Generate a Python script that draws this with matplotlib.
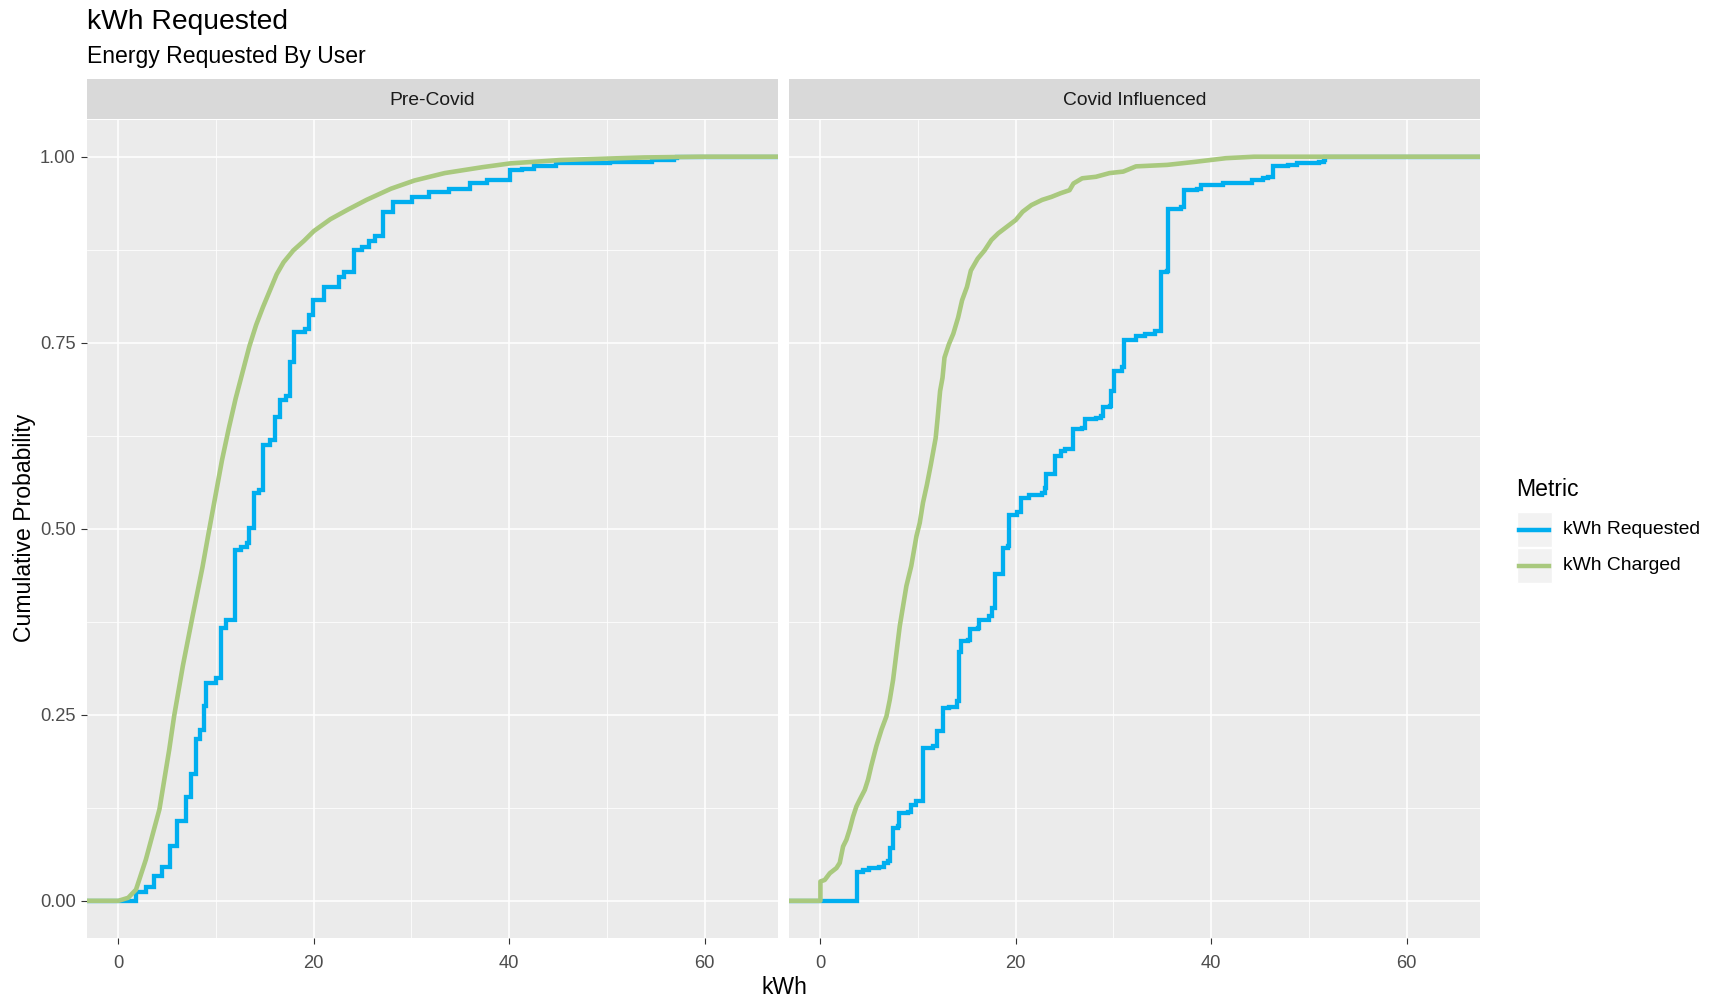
import matplotlib
matplotlib.use('Agg')
import matplotlib.pyplot as plt
from matplotlib.lines import Line2D
from matplotlib.patches import Rectangle

plt.rcParams['font.family'] = ['Liberation Sans', 'DejaVu Sans']

W, H = 1717, 998

panels = ['Pre-Covid', 'Covid Influenced']
metrics = ['kWh Requested', 'kWh Charged']
colors = ['#00AEEF', '#A9C97E']

# Pre-Covid, kWh Requested (step positions / cumulative prob after the step)
pre_req_x = [0, 1.8, 2.8, 3.6, 4.5, 5.3, 6.0, 6.9, 7.4, 7.9, 8.4, 8.8, 9.0, 10.0, 10.5, 11.0,
             11.9, 12.5, 13.2, 13.4, 13.9, 14.4, 14.8, 15.5, 16.0, 16.5, 17.2, 17.6, 18.0,
             19.1, 19.5, 19.9, 21.0, 22.6, 23.1, 24.1, 24.9, 25.6, 26.25, 27.1, 28.1, 30.1,
             31.8, 33.8, 36.0, 37.7, 40.1, 41.3, 42.5, 44.8, 50.3, 54.6, 56.9, 57.2]
pre_req_y = [0, 0.012, 0.019, 0.033, 0.046, 0.073, 0.107, 0.140, 0.170, 0.217, 0.230, 0.262,
             0.293, 0.300, 0.367, 0.378, 0.472, 0.476, 0.481, 0.501, 0.548, 0.552, 0.612,
             0.619, 0.650, 0.673, 0.679, 0.724, 0.764, 0.769, 0.787, 0.807, 0.825, 0.838,
             0.845, 0.874, 0.878, 0.887, 0.894, 0.926, 0.939, 0.946, 0.953, 0.957, 0.964,
             0.969, 0.982, 0.984, 0.987, 0.991, 0.993, 0.9955, 0.998, 1.0]

# Pre-Covid, kWh Charged
pre_chg_x = [0, 1.0, 1.8, 2.8, 4.2, 5.2, 5.7, 6.6, 7.6, 8.6, 9.2, 9.9, 10.6, 11.3, 12.0,
             12.7, 13.4, 14.1, 14.8, 15.5, 16.2, 16.9, 17.9, 19.0, 20.0, 21.7, 23.5, 25.4,
             27.9, 30.3, 33.4, 37.3, 40.1, 45.2, 53.8, 59.6, 64.3]
pre_chg_y = [0, 0.004, 0.015, 0.055, 0.123, 0.203, 0.248, 0.316, 0.383, 0.448, 0.492, 0.542,
             0.592, 0.635, 0.675, 0.710, 0.745, 0.774, 0.798, 0.820, 0.842, 0.858, 0.874,
             0.887, 0.900, 0.916, 0.929, 0.942, 0.957, 0.968, 0.978, 0.986, 0.991, 0.9955,
             0.999, 1.0, 1.0]

# Covid Influenced, kWh Requested
cov_req_x = [0, 3.75, 4.4, 5.0, 6.0, 6.5, 6.9, 7.1, 7.4, 7.9, 8.05, 9.0, 9.3, 9.8, 10.5, 11.5,
             11.95, 12.5, 13.2, 14.0, 14.2, 14.4, 15.1, 15.3, 16.1, 16.25, 17.3, 17.6, 17.85,
             18.7, 19.2, 19.3, 20.1, 20.5, 21.4, 22.7, 23.0, 23.1, 24.0, 24.6, 25.0, 25.9, 26.8,
             27.1, 28.2, 28.7, 28.9, 29.6, 29.7, 30.05, 30.9, 31.1, 32.3, 33.2, 34.2, 34.85,
             35.5, 35.6, 36.9, 37.2, 38.5, 38.95, 41.2, 44.2, 45.3, 45.8, 46.3, 47.9, 48.8, 51.0,
             51.5, 51.7]
cov_req_y = [0, 0.039, 0.042, 0.044, 0.046, 0.051, 0.053, 0.071, 0.098, 0.100, 0.118, 0.120,
             0.129, 0.134, 0.205, 0.208, 0.228, 0.259, 0.261, 0.268, 0.335, 0.349, 0.351, 0.365,
             0.367, 0.378, 0.383, 0.394, 0.439, 0.474, 0.477, 0.519, 0.522, 0.541, 0.546, 0.548,
             0.555, 0.573, 0.598, 0.604, 0.607, 0.634, 0.636, 0.647, 0.649, 0.651, 0.663, 0.665,
             0.685, 0.712, 0.717, 0.753, 0.759, 0.762, 0.766, 0.845, 0.847, 0.930, 0.933, 0.955,
             0.957, 0.962, 0.964, 0.969, 0.971, 0.973, 0.987, 0.989, 0.991, 0.993, 0.9955, 1.0]

# Covid Influenced, kWh Charged
cov_chg_x = [0, 0, 0.44, 0.96, 1.64, 1.98, 2.32, 2.66, 3.0, 3.34, 3.69, 4.03, 4.54, 4.88, 5.2,
             5.73, 6.25, 6.76, 7.1, 7.44, 7.78, 8.12, 8.46, 8.8, 9.3, 9.83, 10.17, 10.5, 10.9,
             11.3, 11.8, 12.0, 12.25, 12.5, 12.7, 13.15, 13.6, 14.1, 14.5, 15.0, 15.4, 16.1,
             16.8, 17.5, 18.2, 19.1, 20.0, 20.7, 21.6, 22.7, 23.65, 24.6, 25.5, 25.9, 26.8, 28.2,
             29.6, 31.0, 32.3, 35.5, 38.3, 41.5, 44.4]
cov_chg_y = [0, 0.026, 0.028, 0.037, 0.044, 0.051, 0.073, 0.082, 0.096, 0.113, 0.127, 0.136,
             0.149, 0.163, 0.181, 0.208, 0.230, 0.248, 0.270, 0.297, 0.333, 0.369, 0.396, 0.423,
             0.450, 0.490, 0.508, 0.535, 0.559, 0.586, 0.622, 0.649, 0.685, 0.703, 0.730, 0.748,
             0.762, 0.784, 0.807, 0.825, 0.847, 0.863, 0.874, 0.888, 0.897, 0.906, 0.915, 0.926,
             0.935, 0.942, 0.946, 0.951, 0.955, 0.964, 0.971, 0.973, 0.978, 0.980, 0.987, 0.989,
             0.993, 0.998, 1.0]

series = [
    [(pre_req_x, pre_req_y), (pre_chg_x, pre_chg_y)],
    [(cov_req_x, cov_req_y), (cov_chg_x, cov_chg_y)],
]

x_ticks = [0, 20, 40, 60]
x_minor = [10, 30, 50]
y_ticks = [0, 0.25, 0.5, 0.75, 1.0]
y_minor = [0.125, 0.375, 0.625, 0.875]
y_labels = ['0.00', '0.25', '0.50', '0.75', '1.00']


def fx(px):
    return px / W


def fy(py):
    return 1 - py / H


# shared x scale, ggplot style 5% expansion
all_x = pre_req_x + pre_chg_x + cov_req_x + cov_chg_x
xmin, xmax = min(all_x), max(all_x)
pad = 0.05 * (xmax - xmin)
xlo, xhi = xmin - pad, xmax + pad

fig = plt.figure(figsize=(W / 100, H / 100), dpi=100)

panel_px = [(87, 778), (789, 1480)]
top_px, bot_px = 119.5, 938
strip_top, strip_bot = 79, 118.5

for i, (l, r) in enumerate(panel_px):
    ax = fig.add_axes([fx(l), fy(bot_px), (r - l) / W, (bot_px - top_px) / H])
    ax.set_facecolor('#EBEBEB')
    for s in ax.spines.values():
        s.set_visible(False)
    ax.set_xlim(xlo, xhi)
    ax.set_ylim(-0.05, 1.05)
    ax.set_xticks(x_ticks)
    ax.set_xticks(x_minor, minor=True)
    ax.set_yticks(y_ticks)
    ax.set_yticks(y_minor, minor=True)
    ax.grid(True, which='major', color='white', linewidth=1.1)
    ax.grid(True, which='minor', color='white', linewidth=0.55)
    ax.set_axisbelow(True)
    ax.tick_params(which='minor', length=0)
    ax.tick_params(which='major', length=4.2, width=0.8, color='#333333',
                   labelcolor='#4D4D4D', labelsize=13.2, pad=4)
    ax.tick_params(axis='x', pad=8)
    if i == 0:
        ax.set_yticklabels(y_labels)
    else:
        ax.tick_params(axis='y', length=0, labelleft=False)

    for (xs, ys), c in zip(series[i], colors):
        px = [xlo] + xs + [xhi]
        py = [0] + ys + [1.0]
        if c == colors[0]:
            ax.step(px, py, where='post', color=c, linewidth=3.1, solid_joinstyle='miter')
        else:
            ax.plot(px, py, color=c, linewidth=3.3)

    sax = fig.add_axes([fx(l), fy(strip_bot), (r - l) / W, (strip_bot - strip_top) / H])
    sax.set_facecolor('#D9D9D9')
    sax.set_xticks([])
    sax.set_yticks([])
    for s in sax.spines.values():
        s.set_visible(False)
    sax.text(0.5, 0.45, panels[i], ha='center', va='center', fontsize=13.9,
             color='#1A1A1A', transform=sax.transAxes)

fig.text(fx(87), fy(22), 'kWh Requested', fontsize=20.3, ha='left', va='center', color='black')
fig.text(fx(87), fy(57), 'Energy Requested By User', fontsize=16.6, ha='left', va='center',
         color='black')
fig.text(fx(24), fy(528), 'Cumulative Probability', fontsize=16.6, rotation=90,
         ha='center', va='center', color='black')
fig.text(fx(784), fy(988), 'kWh', fontsize=16.6, ha='center', va='center', color='black')

# legend
fig.text(fx(1516), fy(489), 'Metric', fontsize=16.6, ha='left', va='center', color='black')
for k, (m, c) in enumerate(zip(metrics, colors)):
    y0 = 512 + 36 * k
    fig.add_artist(Rectangle((fx(1517), fy(y0 + 35)), 35 / W, 35 / H, transform=fig.transFigure,
                             facecolor='#F2F2F2', edgecolor='white', linewidth=1))
    fig.add_artist(Line2D([fx(1519), fx(1549)], [fy(y0 + 18)] * 2, transform=fig.transFigure,
                          color=c, linewidth=3.2))
    fig.text(fx(1563), fy(y0 + 18), m, fontsize=13.9, ha='left', va='center', color='black')

fig.savefig('out.png', dpi=100)
